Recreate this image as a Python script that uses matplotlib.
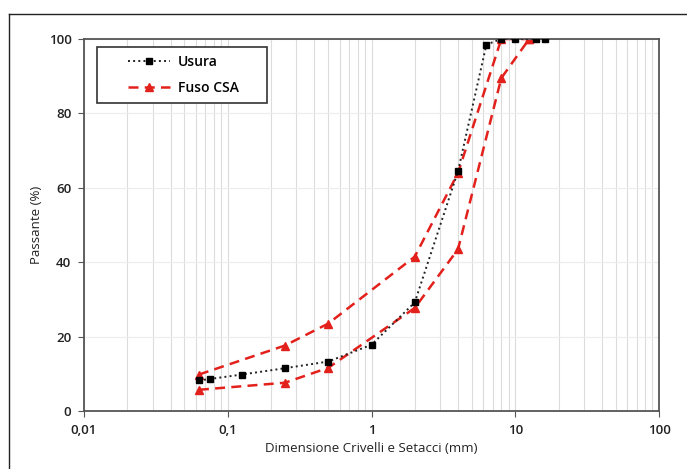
import numpy as np
import matplotlib.pyplot as plt
from matplotlib.ticker import FixedLocator, FixedFormatter, LogLocator, NullFormatter

plt.rcParams['font.family'] = ['Open Sans', 'DejaVu Sans']
plt.rcParams['font.weight'] = 'semibold'

# Usura grading curve
usura_d = [0.063, 0.075, 0.125, 0.25, 0.5, 1, 2, 4, 6.3, 8, 10, 14, 16]
usura_p = [8.2, 8.6, 9.8, 11.5, 13.3, 17.8, 29.2, 64.5, 98.5, 100, 100, 100, 100]

# Fuso CSA envelope (upper and lower limits)
fuso_d = [0.063, 0.25, 0.5, 2, 4, 8, 12.5]
fuso_sup = [9.8, 17.6, 23.5, 41.5, 64, 100, 100]
fuso_inf = [5.7, 7.6, 11.6, 27.7, 43.5, 89.5, 100]

xticks = [0.01, 0.1, 1, 10, 100]
xlabels = ['0,01', '0,1', '1', '10', '100']

W, H = 687, 469
fig = plt.figure(figsize=(6.87, 4.69), dpi=100)
ax = fig.add_axes([84/W, 58/H, 575/W, 372/H])

red = '#e3211c'
ax.plot(fuso_d, fuso_sup, ls=(0, (4, 2.5)), color=red, lw=1.8, marker='^', ms=6,
        label='Fuso CSA', zorder=2)
ax.plot(fuso_d, fuso_inf, ls=(0, (4, 2.5)), color=red, lw=1.8, marker='^', ms=6,
        zorder=2)
ax.plot(usura_d, usura_p, ls=':', color='#222222', lw=1.4, marker='s', ms=5,
        markerfacecolor='black', markeredgecolor='black', label='Usura', zorder=3)

ax.set_xscale('log')
ax.set_xlim(0.01, 100)
ax.set_ylim(0, 100)
ax.xaxis.set_major_locator(FixedLocator(xticks))
ax.xaxis.set_major_formatter(FixedFormatter(xlabels))
ax.xaxis.set_minor_locator(LogLocator(base=10, subs=np.arange(2, 10)))
ax.xaxis.set_minor_formatter(NullFormatter())
ax.set_yticks(np.arange(0, 101, 20))

ax.grid(True, which='both', axis='x', color='#dcdcdc', lw=0.8)
ax.grid(True, which='major', axis='y', color='#ececec', lw=0.8)
ax.set_axisbelow(True)

for s in ax.spines.values():
    s.set_color('#555555')
    s.set_linewidth(1.3)
ax.tick_params(which='minor', length=0)
ax.tick_params(which='major', length=4, color='#555555', direction='out',
               labelsize=9.5, labelcolor='#222222', pad=5)

ax.set_xlabel('Dimensione Crivelli e Setacci (mm)', fontsize=9.5, color='#222222')
ax.set_ylabel('Passante (%)', fontsize=9.5, color='#222222')

h, l = ax.get_legend_handles_labels()
leg = ax.legend(h[::-1], l[::-1], loc='upper left',
                bbox_to_anchor=(128/W, 1 - 55/H), bbox_transform=fig.transFigure,
                frameon=False, fontsize=10, handlelength=3.0,
                borderpad=0, labelspacing=0.85, borderaxespad=0, handletextpad=0.6)
leg.set_zorder(6)

# legend frame drawn separately, wider than the entries like in the reference
box = plt.Rectangle((97/W, 1 - 103/H), 170/W, 56/H, transform=fig.transFigure,
                    facecolor='white', edgecolor='#333333', lw=1.2, zorder=5,
                    clip_on=False)
ax.add_artist(box)

# outer border (left and top edges visible)
fig.add_artist(plt.Line2D([9/W, 9/W], [0, 1 - 14/H], transform=fig.transFigure,
                          color='#222222', lw=1))
fig.add_artist(plt.Line2D([9/W, 1], [1 - 14/H, 1 - 14/H], transform=fig.transFigure,
                          color='#222222', lw=1))

fig.savefig('out.png', dpi=100)
